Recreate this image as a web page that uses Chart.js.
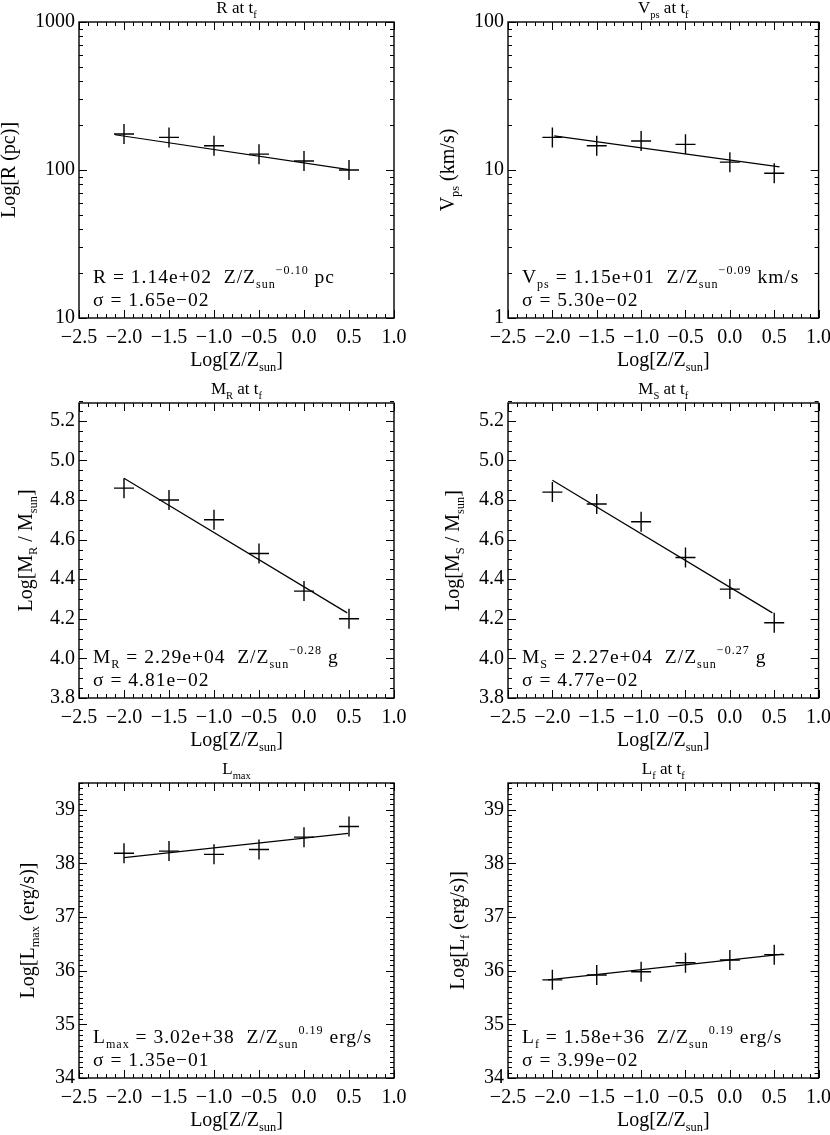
<!DOCTYPE html>
<html>
<head>
<meta charset="utf-8">
<script src="https://cdn.jsdelivr.net/npm/chart.js@4.4.0/dist/chart.umd.min.js"></script>
<style>
  body { margin: 0; background: #fff; }
  #wrap { position: relative; width: 830px; height: 1135px; overflow: hidden; }
  #wrap canvas { position: absolute; }
</style>
</head>
<body>
<div id="wrap"></div>
<script>
// x values: Log[Z/Zsun] of the six runs
const logZ = [-2.0, -1.5, -1.0, -0.5, 0.0, 0.5];
const xTicks = [-2.5, -2.0, -1.5, -1.0, -0.5, 0.0, 0.5, 1.0];

// R at tf (pc)
const radiusTicks = [10, 100, 1000];
const radius = [175, 166, 146, 128, 115, 100];
const radiusFitX = [-2.1, 0.5];
const radiusFitY = [173, 100.5];

// Vps at tf (km/s)
const velTicks = [1, 10, 100];
const vel = [16.6, 14.6, 15.7, 14.9, 11.3, 9.5];
const velFitX = [-1.98, 0.56];
const velFitY = [17.0, 10.5];

// Log masses
const massTicks = ['3.8', '4.0', '4.2', '4.4', '4.6', '4.8', '5.0', '5.2'];
const massR = [4.86, 4.80, 4.70, 4.53, 4.34, 4.20];
const massRFitX = [-2.0, 0.48];
const massRFitY = [4.91, 4.23];
const massS = [4.84, 4.78, 4.69, 4.51, 4.35, 4.18];
const massSFitX = [-2.0, 0.48];
const massSFitY = [4.90, 4.23];

// Log luminosities
const lumTicks = ['34', '35', '36', '37', '38', '39'];
const lumMax = [38.19, 38.23, 38.17, 38.26, 38.49, 38.69];
const lumMaxFitX = [-2.0, 0.49];
const lumMaxFitY = [38.11, 38.56];
const lumF = [35.83, 35.92, 35.98, 36.15, 36.20, 36.30];
const lumFFitX = [-2.05, 0.6];
const lumFFitY = [35.83, 36.31];

const FONT = '"Liberation Serif", "DejaVu Serif", serif';
const sub = t => ({ t: t, k: 'sub' });
const sup = t => ({ t: t, k: 'sup' });

// layout of the 3x2 grid
const rowTop = [0, 378, 757];
const padTop = [22, 25, 26];
const bottomSpace = [60, 58, 57];
const colLeft = [0, 415];
const yWidth = [79, 93];
const padRight = [21, 8];

const panels = [
  { col: 0, row: 0, log: true, yMin: 10, yMax: 1000, yTicks: radiusTicks,
    vals: radius, fitX: radiusFitX, fitY: radiusFitY, gap: 71,
    title: ['R at t', sub('f')], ylab: ['Log[R (pc)]'],
    note: [['R = 1.14e+02  Z/Z', sub('sun'), sup('\u22120.10'), ' pc'], ['\u03c3 = 1.65e\u221202']] },
  { col: 1, row: 0, log: true, yMin: 1, yMax: 100, yTicks: velTicks,
    vals: vel, fitX: velFitX, fitY: velFitY, gap: 61,
    title: ['V', sub('ps'), ' at t', sub('f')], ylab: ['V', sub('ps'), ' (km/s)'],
    note: [['V', sub('ps'), ' = 1.15e+01  Z/Z', sub('sun'), sup('\u22120.09'), ' km/s'], ['\u03c3 = 5.30e\u221202']] },
  { col: 0, row: 1, log: false, yMin: 3.8, yMax: 5.29, yTicks: massTicks, minor: 0.05,
    vals: massR, fitX: massRFitX, fitY: massRFitY, gap: 54,
    title: ['M', sub('R'), ' at t', sub('f')], ylab: ['Log[M', sub('R'), ' / M', sub('sun'), ']'],
    note: [['M', sub('R'), ' = 2.29e+04  Z/Z', sub('sun'), sup('\u22120.28'), ' g'], ['\u03c3 = 4.81e\u221202']] },
  { col: 1, row: 1, log: false, yMin: 3.8, yMax: 5.29, yTicks: massTicks, minor: 0.05,
    vals: massS, fitX: massSFitX, fitY: massSFitY, gap: 56,
    title: ['M', sub('S'), ' at t', sub('f')], ylab: ['Log[M', sub('S'), ' / M', sub('sun'), ']'],
    note: [['M', sub('S'), ' = 2.27e+04  Z/Z', sub('sun'), sup('\u22120.27'), ' g'], ['\u03c3 = 4.77e\u221202']] },
  { col: 0, row: 2, log: false, yMin: 34, yMax: 39.5, yTicks: lumTicks, minor: 0.1,
    vals: lumMax, fitX: lumMaxFitX, fitY: lumMaxFitY, gap: 52,
    title: ['L', sub('max')], ylab: ['Log[L', sub('max'), ' (erg/s)]'],
    note: [['L', sub('max'), ' = 3.02e+38  Z/Z', sub('sun'), sup('0.19'), ' erg/s'], ['\u03c3 = 1.35e\u221201']] },
  { col: 1, row: 2, log: false, yMin: 34, yMax: 39.5, yTicks: lumTicks, minor: 0.1,
    vals: lumF, fitX: lumFFitX, fitY: lumFFitY, gap: 51,
    title: ['L', sub('f'), ' at t', sub('f')], ylab: ['Log[L', sub('f'), ' (erg/s)]'],
    note: [['L', sub('f'), ' = 1.58e+36  Z/Z', sub('sun'), sup('0.19'), ' erg/s'], ['\u03c3 = 3.99e\u221202']] }
];

// draw a string with sub/superscript pieces
function drawRich(ctx, segs, x, y, size, align) {
  const parts = segs.map(s => typeof s === 'string' ? { t: s, k: '' } : s);
  let total = 0;
  parts.forEach(p => {
    p.size = p.k ? size * 0.62 : size;
    ctx.font = p.size + 'px ' + FONT;
    p.w = ctx.measureText(p.t).width;
    total += p.w;
  });
  let cx = align === 'center' ? x - total / 2 : x;
  parts.forEach(p => {
    ctx.font = p.size + 'px ' + FONT;
    const dy = p.k === 'sub' ? size * 0.27 : (p.k === 'sup' ? -size * 0.48 : 0);
    ctx.fillText(p.t, cx, y + dy);
    cx += p.w;
  });
}

function minorValues(p) {
  const out = [];
  if (p.log) {
    for (let d = p.yMin; d < p.yMax; d *= 10) {
      for (let m = 2; m <= 9; m++) out.push(d * m);
    }
  } else {
    const n = Math.round((p.yMax - p.yMin) / p.minor);
    for (let i = 0; i <= n; i++) out.push(p.yMin + i * p.minor);
  }
  return out;
}

// IDL-like frame: inward ticks on all four sides, titles and fit note
const framePlugin = {
  id: 'frame',
  afterDraw(chart) {
    const p = chart.options.plugins.frame.panel;
    const ctx = chart.ctx;
    const a = chart.chartArea;
    const xs = chart.scales.x, ys = chart.scales.y;
    ctx.save();
    ctx.strokeStyle = '#000';
    ctx.fillStyle = '#000';
    ctx.lineWidth = 1.4;
    ctx.strokeRect(a.left, a.top, a.right - a.left, a.bottom - a.top);

    ctx.lineWidth = 1;
    ctx.beginPath();
    const xTick = (v, len) => {
      const px = Math.round(xs.getPixelForValue(v)) + 0.5;
      ctx.moveTo(px, a.bottom); ctx.lineTo(px, a.bottom - len);
      ctx.moveTo(px, a.top); ctx.lineTo(px, a.top + len);
    };
    const yTick = (v, len) => {
      const py = Math.round(ys.getPixelForValue(v)) + 0.5;
      ctx.moveTo(a.left, py); ctx.lineTo(a.left + len, py);
      ctx.moveTo(a.right, py); ctx.lineTo(a.right - len, py);
    };
    for (let i = 0; i <= 35; i++) xTick(-2.5 + i * 0.1, 4);
    xTicks.forEach(v => xTick(v, 8));
    minorValues(p).forEach(v => yTick(v, 4));
    p.yTicks.forEach(v => yTick(Number(v), 8));
    ctx.stroke();

    const cxm = (a.left + a.right) / 2;
    ctx.textBaseline = 'alphabetic';
    drawRich(ctx, p.title, cxm, a.top - 9, 17, 'center');
    drawRich(ctx, ['Log[Z/Z', sub('sun'), ']'], cxm, a.bottom + 48, 20, 'center');

    ctx.save();
    ctx.translate(a.left - p.gap + 7, (a.top + a.bottom) / 2);
    ctx.rotate(-Math.PI / 2);
    drawRich(ctx, p.ylab, 0, 0, 20, 'center');
    ctx.restore();

    ctx.letterSpacing = '1px';
    drawRich(ctx, p.note[0], a.left + 14, a.bottom - 35, 19.5, 'left');
    drawRich(ctx, p.note[1], a.left + 14, a.bottom - 12, 19.5, 'left');
    ctx.restore();
  }
};

const fmtX = v => (Math.abs(v) < 1e-9 ? '0.0' : v.toFixed(1).replace('-', '\u2212'));

panels.forEach(p => {
  const canvas = document.createElement('canvas');
  canvas.width = 415;
  canvas.height = 378;
  canvas.style.left = colLeft[p.col] + 'px';
  canvas.style.top = rowTop[p.row] + 'px';
  document.getElementById('wrap').appendChild(canvas);

  const points = logZ.map((x, i) => ({ x: x, y: p.vals[i] }));
  const fit = p.fitX.map((x, i) => ({ x: x, y: p.fitY[i] }));
  const tickFont = { family: FONT, size: 20 };
  // tick label text comes straight from the tick arrays
  const labelFor = v => {
    const hit = p.yTicks.find(t => Math.abs(Number(t) - v) < 1e-6);
    return hit === undefined ? '' : String(hit);
  };

  new Chart(canvas.getContext('2d'), {
    type: 'scatter',
    data: {
      datasets: [
        { data: points, pointStyle: 'cross', pointRadius: 10, pointBorderWidth: 1.4,
          borderColor: '#000', backgroundColor: '#000', showLine: false },
        { data: fit, showLine: true, pointRadius: 0, borderColor: '#000', borderWidth: 1.2 }
      ]
    },
    options: {
      responsive: false,
      animation: false,
      devicePixelRatio: 1,
      layout: { padding: { left: 0, right: padRight[p.col], top: padTop[p.row], bottom: 0 } },
      plugins: { legend: { display: false }, tooltip: { enabled: false }, frame: { panel: p } },
      scales: {
        x: {
          type: 'linear', min: -2.5, max: 1.0,
          afterBuildTicks: s => { s.ticks = xTicks.map(v => ({ value: v })); },
          afterFit: s => { s.height = bottomSpace[p.row]; s.paddingLeft = 0; s.paddingRight = 0; },
          grid: { display: false, drawTicks: false },
          border: { display: false },
          ticks: { color: '#000', font: tickFont, padding: 8, autoSkip: false, maxRotation: 0,
                   callback: v => fmtX(v) }
        },
        y: {
          type: p.log ? 'logarithmic' : 'linear', min: p.yMin, max: p.yMax,
          afterBuildTicks: s => { s.ticks = p.yTicks.map(v => ({ value: Number(v) })); },
          afterFit: s => { s.width = yWidth[p.col]; s.paddingTop = 0; s.paddingBottom = 0; },
          grid: { display: false, drawTicks: false },
          border: { display: false },
          ticks: { color: '#000', font: tickFont, padding: 4, autoSkip: false,
                   callback: v => labelFor(v) }
        }
      }
    },
    plugins: [framePlugin]
  });
});
</script>
</body>
</html>
